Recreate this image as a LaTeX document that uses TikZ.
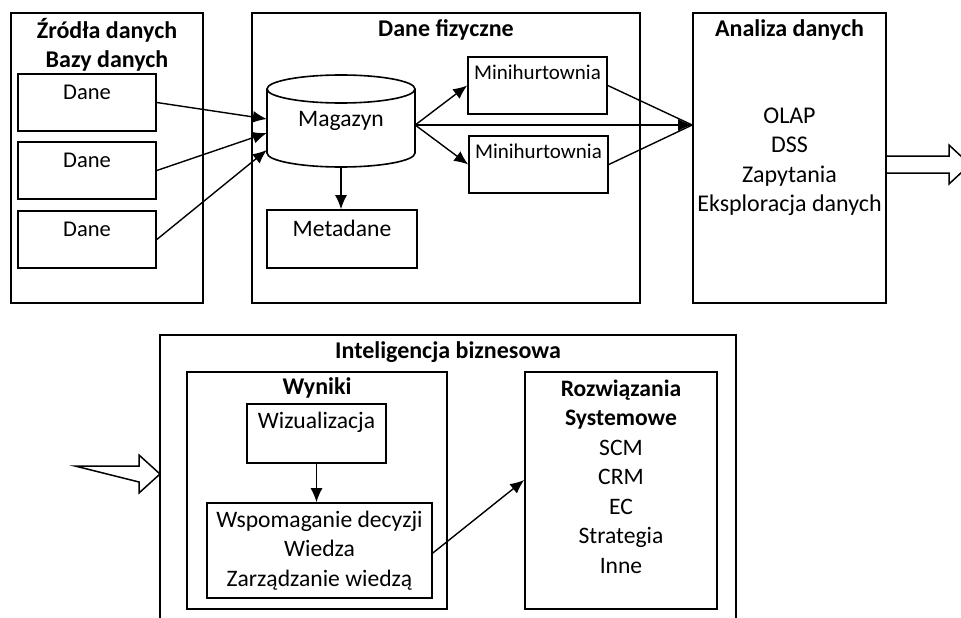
\documentclass[tikz,border=0pt]{standalone}
\usepackage{fontspec}
\setmainfont{Carlito}
\usetikzlibrary{arrows.meta}

\tikzset{
  box/.style={draw, line width=1.6pt, inner sep=0pt},
  txt/.style={font=\fontsize{23.6}{29.5}\selectfont, align=center, inner sep=0pt},
  ttl/.style={font=\fontsize{24}{29.5}\selectfont\bfseries, align=center, inner sep=0pt},
  conn/.style={line width=1.4pt},
  hollow/.style={draw, line width=1.5pt, line join=miter}
}

\begin{document}
\begin{tikzpicture}[x=1pt,y=-1pt,>={Latex[length=14pt,width=12pt]}]
		\clip (0,0) rectangle (961,618);
		
		%Zrodla danych
		\node[box, minimum width=192pt, minimum height=290pt] (src) at (107,158) {};
		\node[ttl] (srcT) at (107,45) {Źródła danych\\Bazy danych};
		\node[box, minimum width=138pt, minimum height=57pt] (dane1) at (87,102.5) {};
		\node[box, minimum width=138pt, minimum height=57pt] (dane2) at (87,170.5) {};
		\node[box, minimum width=138pt, minimum height=57pt] (dane3) at (87,239.5) {};
		\node[txt, font=\fontsize{22.5}{29.5}\selectfont] (dane1T) at (87,92) {Dane};
		\node[txt, font=\fontsize{22.5}{29.5}\selectfont] (dane2T) at (87,160) {Dane};
		\node[txt, font=\fontsize{22.5}{29.5}\selectfont] (dane3T) at (87,229) {Dane};
		
		%Dane fizyczne
		\node[box, minimum width=388pt, minimum height=290pt] (fiz) at (446,158) {};
		\node[ttl] (fizT) at (446,30) {Dane fizyczne};
		\node[txt, minimum width=148pt, minimum height=93pt] (mag) at (341,120.5) {Magazyn};
		\draw[line width=1.6pt] (341,89) ellipse [x radius=74pt, y radius=14pt];
		\draw[line width=1.6pt] (267,89) -- (267,153)
		arc[start angle=180, end angle=360, x radius=74pt, y radius=14pt] -- (415,89);
		\node[box, minimum width=139pt, minimum height=57pt] (mini1) at (537.5,85.5) {};
		\node[box, minimum width=139pt, minimum height=57pt] (mini2) at (538.5,164.5) {};
		\node[txt, font=\fontsize{21}{29.5}\selectfont] (mini1T) at (537.5,72) {Minihurtownia};
		\node[txt, font=\fontsize{21}{29.5}\selectfont] (mini2T) at (538.5,151) {Minihurtownia};
		\node[box, minimum width=150pt, minimum height=58pt] (meta) at (342,239) {};
		\node[txt] (metaT) at (342,228) {Metadane};
		
		%Analiza danych
		\node[box, minimum width=193pt, minimum height=290pt] (ana) at (789.5,158) {};
		\node[ttl] (anaT) at (789.5,30) {Analiza danych};
		\node[txt, font=\fontsize{24}{29.5}\selectfont] (anaL) at (789.5,162) {OLAP\\DSS\\Zapytania\\Eksploracja danych};
		\coordinate (hub) at ([yshift=33pt]ana.west);
		\draw[hollow] (886,156) -- (949,156) -- (949,145) -- (970,164.5)
		-- (949,184) -- (949,173) -- (886,173);
		
		\draw[conn,->] (dane1.east) -- ([yshift=1.5pt]mag.west);
		\draw[conn,->] (dane2.east) -- ([yshift=-12.5pt]mag.west);
		\draw[conn,->] (dane3.east) -- ([yshift=-29.5pt]mag.west);
		\draw[conn,->] (mag.south) -- (mag.south |- meta.north);
		\draw[conn,->] ([yshift=-4.5pt]mag.east) -- (mini1.west);
		\draw[conn,->] ([yshift=-4.5pt]mag.east) -- (mini2.west);
		\draw[conn,->] ([yshift=-4.5pt]mag.east) -- (hub);
		\draw[conn] (mini1.east) -- (hub);
		\draw[conn] (mini2.east) -- (hub);
		
		%Inteligencja biznesowa
		\node[box, minimum width=576pt, minimum height=300pt] (bi) at (448,485) {};
		\node[ttl] (biT) at (448,352) {Inteligencja biznesowa};
		\draw[hollow] (75,466) -- (139,466) -- (139,455) -- (160,474)
		-- (139,493) -- (139,482) -- cycle;
		
		\node[box, minimum width=260pt, minimum height=237pt] (wyn) at (317,490.5) {};
		\node[ttl] (wynT) at (317,388) {Wyniki};
		\node[box, minimum width=139pt, minimum height=59pt] (wiz) at (316.5,433.5) {};
		\node[txt] (wizT) at (316.5,422) {Wizualizacja};
		\node[box, minimum width=225pt, minimum height=95pt] (wsp) at (319.5,550.5) {};
		\node[txt] (wspT) at (319.5,550.5) {Wspomaganie decyzji\\Wiedza\\Zarządzanie wiedzą};
		
		\node[box, minimum width=192pt, minimum height=237pt] (roz) at (621,490.5) {};
		\node[txt] (rozT) at (621,476.5) {\textbf{Rozwiązania}\\\textbf{Systemowe}\\SCM\\CRM\\EC\\Strategia\\Inne};
		
		\draw[conn,->] (wiz.south) -- (wiz.south |- wsp.north);
		\draw[conn,->] ([yshift=-2.5pt]wsp.east) -- ([yshift=10.5pt]roz.west);
		
	\end{tikzpicture}
\end{document}
